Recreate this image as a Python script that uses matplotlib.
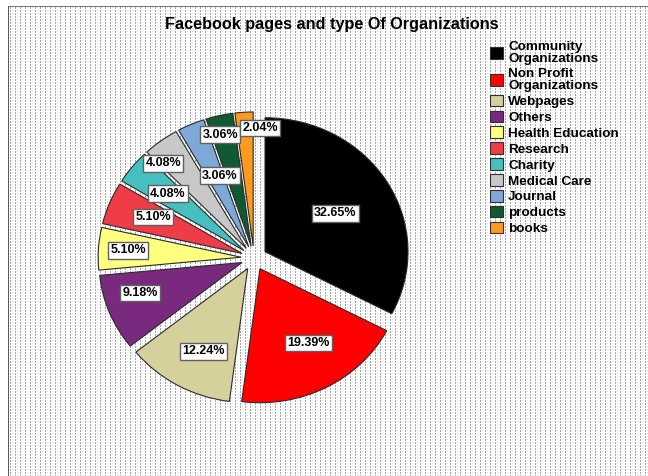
import numpy as np
import matplotlib
matplotlib.use('Agg')
import matplotlib.pyplot as plt
from matplotlib.patches import Patch

# ---- data ----
categories = ['Community\nOrganizations', 'Non Profit\nOrganizations', 'Webpages', 'Others',
              'Health Education', 'Research', 'Charity', 'Medical Care', 'Journal',
              'products', 'books']
counts = [32, 19, 12, 9, 5, 5, 4, 4, 3, 3, 2]
title = 'Facebook pages and type Of Organizations'

# ---- styles ----
colors = ['#000000', '#ff0000', '#d5d09c', '#7a2a7e', '#ffff80', '#f03c46',
          '#45bfbf', '#c8c8c8', '#7ea8d8', '#0f5a32', '#ff9a1e']
label_r = [0.57, 0.65, 0.69, 0.75, 0.79, 0.68, 0.68, 0.86, 0.57, 0.86, 0.88]
label_dang = [-1, 4, 3, -4.4, 0, -1.6, 0, 5.7, -3, 1.7, -6.8]
FONT = ['Liberation Sans', 'DejaVu Sans']
plt.rcParams['font.family'] = FONT

W, H = 648, 476
fig = plt.figure(figsize=(W / 100, H / 100), dpi=100)
fig.patch.set_facecolor('white')

# dotted background pattern
img = np.full((H, W, 3), 255, dtype=np.uint8)
yy, xx = np.mgrid[0:H, 0:W]
mask = (yy >= 7) & (xx >= 9) & ((xx - 10) % 5 == 0) & (yy % 3 != 0)
img[mask] = 165
mask2 = (yy >= 7) & (xx >= 9) & ((xx - 12) % 5 == 0) & (yy % 3 == 1)
img[mask2] = 228
img[6, 8:] = 120
img[6:, 8] = 90
fig.figimage(img, 0, 0, zorder=-5, origin='upper')

ax = fig.add_axes([0, 0, 1, 1])
ax.set_zorder(1)
ax.patch.set_visible(False)
total = sum(counts)
wedges, _ = ax.pie(counts, colors=colors, explode=[0.09] * len(counts), startangle=90,
                   counterclock=False,
                   wedgeprops=dict(edgecolor='#2a2a2a', linewidth=0.8))
ax.set_aspect('auto')
cx, cy, Rx, Ry = 254, 258, 143, 134
ax.set_xlim(-cx / Rx, (W - cx) / Rx)
ax.set_ylim(-(H - cy) / Ry, cy / Ry)
ax.axis('off')

for w, c, r, da in zip(wedges, counts, label_r, label_dang):
    m = np.deg2rad((w.theta1 + w.theta2) / 2 + da)
    x = w.center[0] + r * np.cos(m)
    y = w.center[1] + r * np.sin(m)
    ax.text(x, y, f'{100 * c / total:.2f}%', ha='center', va='center',
            fontsize=9, fontweight='bold', color='black', zorder=5,
            bbox=dict(boxstyle='square,pad=0.18', fc='white', ec='#606060', lw=1.0))

fig.text(0.512, 1 - 24 / H, title, ha='center', va='center', fontsize=11.7,
         fontweight='bold', zorder=3)

handles = [Patch(facecolor=c, edgecolor='#303030', linewidth=0.8) for c in colors]
leg = fig.legend(handles, categories, loc='upper left',
                 bbox_to_anchor=(490 / W, 1 - 41 / H), frameon=False,
                 prop=dict(family=FONT, weight='bold', size=9.7),
                 handlelength=0.95, handleheight=0.95, handletextpad=0.4,
                 labelspacing=0.18, borderpad=0, borderaxespad=0)
leg.set_zorder(3)
for t in leg.get_texts():
    t.set_linespacing(1.05)

fig.savefig('out.png', dpi=100)
